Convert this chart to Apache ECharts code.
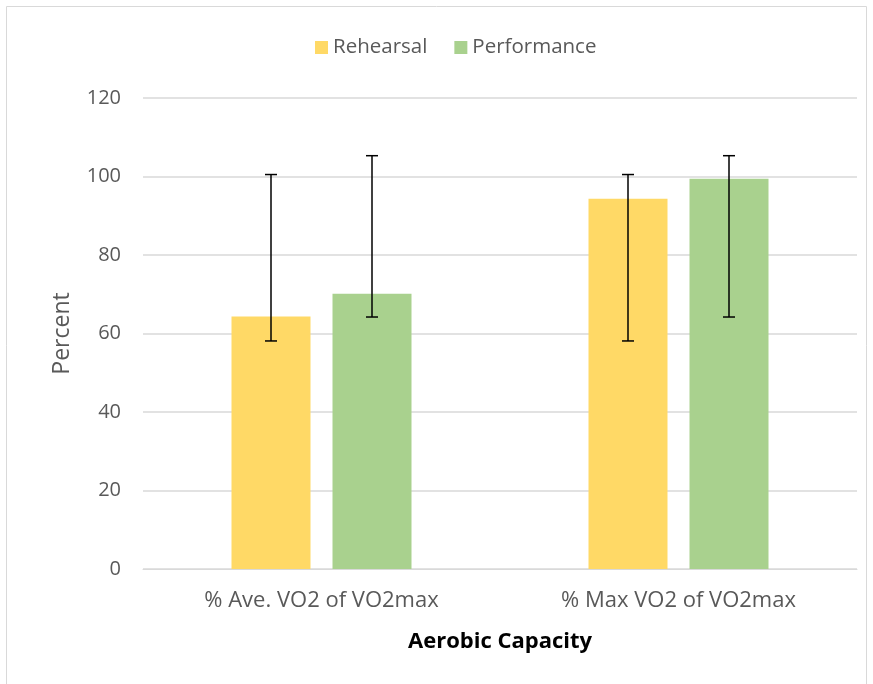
<!DOCTYPE html>
<html>
<head>
<meta charset="utf-8">
<script src="https://cdn.jsdelivr.net/npm/echarts@6/dist/echarts.min.js"></script>
<style>
  html, body { margin: 0; padding: 0; background: #fff; }
  #chart { width: 873px; height: 684px; }
</style>
</head>
<body>
<div id="chart"></div>
<script>
// data
const categories = ['% Ave. VO2 of VO2max', '% Max VO2 of VO2max'];
const rehearsal = [64.3, 94.3];
const performance = [70.1, 99.4];
const rehearsalErr = [[58.1, 100.5], [58.1, 100.5]];
const performanceErr = [[64.2, 105.3], [64.2, 105.3]];
const yTicks = [0, 20, 40, 60, 80, 100, 120];

const font = '"Open Sans", "Liberation Sans", sans-serif';
const barW = 79;
const gapPx = 22;

// error bar drawn around bar centre, offset by half of bar+gap
function errSeries(name, errs, side) {
  return {
    type: 'custom',
    name: name + ' err',
    z: 10,
    silent: true,
    data: errs.map((e, i) => [i, e[0], e[1]]),
    renderItem: function (params, api) {
      const i = api.value(0);
      const lo = api.coord([i, api.value(1)]);
      const hi = api.coord([i, api.value(2)]);
      const x = lo[0] + side * (barW + gapPx) / 2;
      const cap = 6;
      const style = { stroke: '#000', lineWidth: 1.5 };
      return {
        type: 'group',
        children: [
          { type: 'line', shape: { x1: x, y1: lo[1], x2: x, y2: hi[1] }, style: style },
          { type: 'line', shape: { x1: x - cap, y1: lo[1], x2: x + cap, y2: lo[1] }, style: style },
          { type: 'line', shape: { x1: x - cap, y1: hi[1], x2: x + cap, y2: hi[1] }, style: style }
        ]
      };
    }
  };
}

const chart = echarts.init(document.getElementById('chart'));
chart.setOption({
  animation: false,
  textStyle: { fontFamily: font },
  graphic: [{
    type: 'rect',
    shape: { x: 6.5, y: 6.5, width: 860, height: 700 },
    style: { fill: 'none', stroke: '#d9d9d9', lineWidth: 1 },
    silent: true
  }],
  legend: {
    top: 32,
    left: 310,
    itemWidth: 13,
    itemHeight: 13,
    itemGap: 27,
    icon: 'rect',
    textStyle: { fontSize: 20.5, color: '#595959', fontFamily: font },
    data: ['Rehearsal', 'Performance']
  },
  grid: { left: 143, right: 16, top: 98, bottom: 115 },
  xAxis: {
    type: 'category',
    data: categories,
    name: 'Aerobic Capacity',
    nameLocation: 'middle',
    nameGap: 62,
    nameTextStyle: { fontSize: 22, fontWeight: 'bold', color: '#000', fontFamily: font },
    axisLine: { lineStyle: { color: '#d9d9d9', width: 1 } },
    axisTick: { show: false },
    axisLabel: { fontSize: 22, color: '#595959', margin: 21 }
  },
  yAxis: {
    type: 'value',
    min: 0,
    max: 120,
    interval: 20,
    name: 'Percent',
    nameLocation: 'middle',
    nameGap: 69,
    nameTextStyle: { fontSize: 23, color: '#595959', fontFamily: font },
    axisLine: { show: false },
    axisTick: { show: false },
    axisLabel: {
      fontSize: 20, color: '#595959', margin: 22,
      formatter: v => yTicks.includes(v) ? String(v) : ''
    },
    splitLine: { lineStyle: { color: '#d9d9d9', width: 1.5 } }
  },
  series: [
    {
      name: 'Rehearsal', type: 'bar', data: rehearsal,
      barWidth: barW, barGap: (gapPx / barW * 100) + '%',
      itemStyle: { color: '#ffd966' }
    },
    {
      name: 'Performance', type: 'bar', data: performance,
      barWidth: barW,
      itemStyle: { color: '#a9d18e' }
    },
    errSeries('Rehearsal', rehearsalErr, -1),
    errSeries('Performance', performanceErr, 1)
  ]
});
</script>
</body>
</html>
